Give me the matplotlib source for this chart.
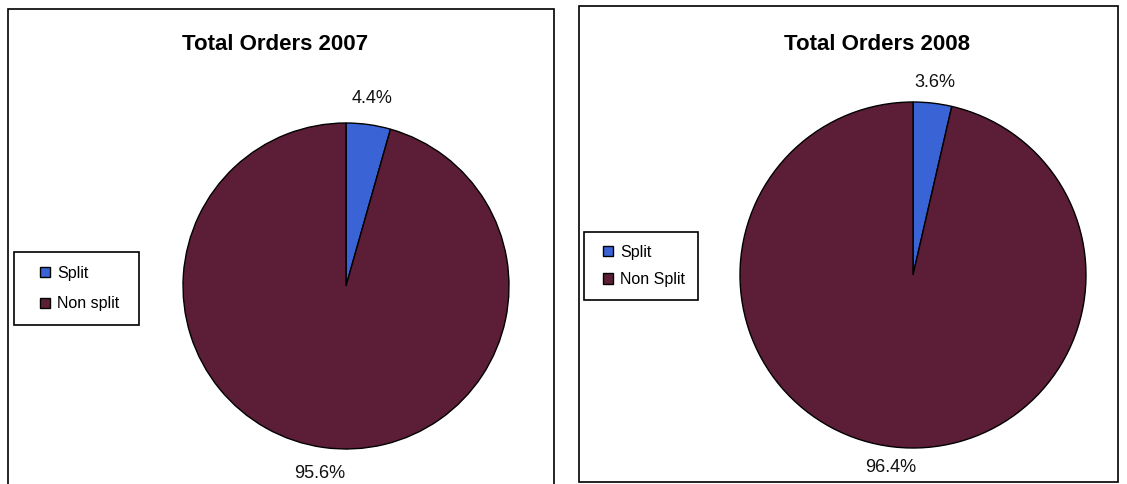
import matplotlib.pyplot as plt
from matplotlib.patches import Rectangle

W, H = 1127, 484

# data
titles = ['Total Orders 2007', 'Total Orders 2008']
labels_2007 = ['Split', 'Non split']
labels_2008 = ['Split', 'Non Split']
values_2007 = [4.4, 95.6]
values_2008 = [3.6, 96.4]
colors = ['#3a63d6', '#5c1e36']

plt.rcParams['font.family'] = ['Liberation Sans', 'DejaVu Sans']

fig = plt.figure(figsize=(W / 100, H / 100), dpi=100)


def box(x0, y0, x1, y1):
    # pixel box (top-left origin) -> figure fraction rect
    return [x0 / W, 1 - y1 / H, (x1 - x0) / W, (y1 - y0) / H]


def frame(x0, y0, x1, y1, lw=1.2, color='black'):
    l, b, w, h = box(x0, y0, x1, y1)
    fig.patches.append(Rectangle((l, b), w, h, transform=fig.transFigure,
                                 fill=False, edgecolor=color, linewidth=lw))


# panel settings: pie centre/radius, title pos, legend box, label distance
panels = [
    dict(title=titles[0], labels=labels_2007, values=values_2007,
         cx=346, cy=286, r=163, ty=45, tx=275,
         leg=(14, 252, 139, 325), lx=26, pct=1.16, spacing=1.0),
    dict(title=titles[1], labels=labels_2008, values=values_2008,
         cx=913, cy=275, r=173, ty=45, tx=877,
         leg=(584, 232, 698, 300), lx=19, pct=1.12, spacing=0.8),
]

# outer panel borders
frame(8, 9, 554, 490)
frame(579, 6, 1118, 482)

for p in panels:
    cx, cy, r = p['cx'], p['cy'], p['r']
    ax = fig.add_axes(box(cx - r, cy - r, cx + r, cy + r))
    wedges, _, autotexts = ax.pie(p['values'], colors=colors, startangle=90,
                                  counterclock=False, autopct='%1.1f%%',
                                  pctdistance=p['pct'],
                                  wedgeprops=dict(edgecolor='black', linewidth=1.0),
                                  textprops=dict(fontsize=13, color='#111111'))
    ax.set_xlim(-1, 1)
    ax.set_ylim(-1, 1)
    ax.set_aspect('equal')

    fig.text(p['tx'] / W, 1 - p['ty'] / H, p['title'], ha='center', va='center',
             fontsize=16, fontweight='bold')

    x0, y0, x1, y1 = p['leg']
    frame(x0, y0, x1, y1, lw=1.2)
    fig.legend(wedges, p['labels'], loc='center left',
               bbox_to_anchor=((x0 + p['lx']) / W, 1 - (y0 + y1) / 2 / H),
               frameon=False, fontsize=11.5, handlelength=0.65, handleheight=0.65,
               handletextpad=0.4, labelspacing=p['spacing'], borderpad=0,
               borderaxespad=0)

fig.savefig('out.png', dpi=100)
